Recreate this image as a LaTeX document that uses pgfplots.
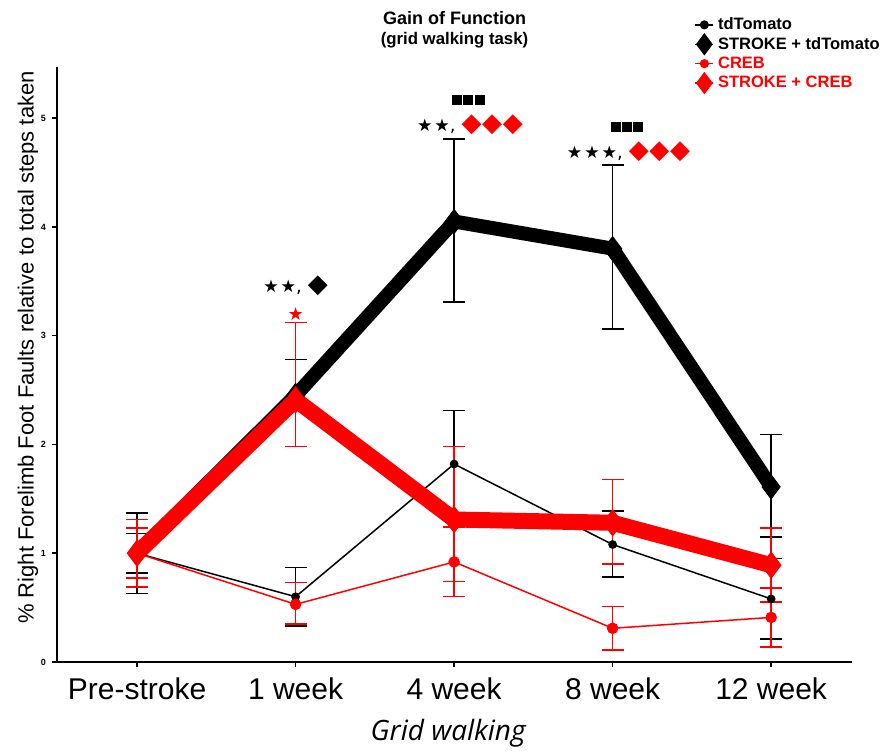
\documentclass[border=0pt]{standalone}
\usepackage{pgfplots}
\usepackage{pgfplotstable}
\pgfplotsset{compat=1.18}
\usepackage{fontspec}
\setmainfont{Liberation Sans}
\newfontfamily\osans{Open Sans}
\newfontfamily\symfont{DejaVu Sans}

% columns: time point, mean, error up, error down
\pgfplotstableread{
x y ep em
0 1.00 0.37 0.37
1 0.60 0.27 0.27
2 1.82 0.49 0.49
3 1.08 0.31 0.30
4 0.58 0.37 0.37
}\tdtomato

\pgfplotstableread{
x y ep em
0 1.00 0.18 0.18
1 2.45 0.33 0.47
2 4.05 0.76 0.74
3 3.80 0.77 0.74
4 1.61 0.48 0.46
}\stroketd

\pgfplotstableread{
x y ep em
0 1.00 0.23 0.23
1 0.53 0.20 0.18
2 0.92 0.32 0.32
3 0.31 0.20 0.20
4 0.41 0.27 0.27
}\creb

\pgfplotstableread{
x y ep em
0 1.00 0.31 0.31
1 2.41 0.71 0.43
2 1.31 0.67 0.57
3 1.28 0.40 0.38
4 0.89 0.34 0.34
}\strokecreb

\definecolor{cred}{RGB}{255,0,0}

\newcommand{\sq}{\rule{5pt}{5pt}}
\newcommand{\squares}{\sq\hspace{0.6pt}\sq\hspace{0.6pt}\sq}

\begin{document}
\begin{tikzpicture}[x=1pt,y=1pt]
\path[use as bounding box] (0,0) rectangle (442,375.5);
\begin{axis}[
  at={(28.5pt,44.5pt)}, anchor=south west,
  scale only axis, width=397.5pt, height=297.5pt,
  xmin=-0.505, xmax=4.51, ymin=0, ymax=5.47,
  clip=false,
  axis x line=bottom, axis y line=left,
  axis line style={-, line width=0.75pt},
  tick align=outside, major tick length=2.5pt,
  every tick/.style={black, line width=0.75pt},
  xtick={0,1,2,3,4},
  xticklabels={Pre-stroke, 1 week, 4 week, 8 week, 12 week},
  xticklabel style={font=\fontsize{15}{17}\selectfont, yshift=-2pt},
  ytick={0,1,2,3,4,5},
  yticklabel style={font=\bfseries\fontsize{4.5}{5}\selectfont, xshift=0.5pt},
  /pgf/number format/assume math mode=true,
  xlabel={Grid walking},
  xlabel style={font=\osans\itshape\fontsize{14}{16}\selectfont,
    at={(axis description cs:0.492,-0.119)}, anchor=center},
  ylabel={\% Right Forelimb Foot Faults relative to total steps taken},
  ylabel style={font=\fontsize{11}{13}\selectfont,
    at={(axis description cs:-0.0365,0.5286)}, anchor=center},
  legend style={at={(axis description cs:0.794,1.094)}, anchor=north west,
    draw=none, fill=none, font=\bfseries\fontsize{8.25}{9}\selectfont,
    nodes={text height=6.3pt, text depth=1.5pt, inner ysep=0.8pt, inner xsep=2pt}},
  legend cell align=left,
  legend image code/.code={%
    \draw[mark repeat=2, mark phase=2, #1]
      plot coordinates {(0pt,0pt) (4.5pt,0pt) (9pt,0pt)};},
  error bars/y dir=both, error bars/y explicit,
]

% thin series: sham animals
\addplot[forget plot, black, line width=0.75pt, mark=*, mark size=1.8pt,
  error bars/.cd, error bar style={black, line width=0.75pt},
  error mark options={rotate=90, mark size=5.5pt, line width=0.75pt, black}]
  table[x=x, y=y, y error plus=ep, y error minus=em]{\tdtomato};
\addplot[forget plot, cred, line width=0.75pt, mark=*, mark size=2.5pt,
  error bars/.cd, error bar style={cred, line width=0.75pt},
  error mark options={rotate=90, mark size=5.5pt, line width=0.75pt, cred}]
  table[x=x, y=y, y error plus=ep, y error minus=em]{\creb};

% thick series: stroke animals
\addplot[forget plot, black, line width=7pt, mark=diamond*, mark size=6pt,
  mark options={line width=0.5pt},
  error bars/.cd, error bar style={black, line width=0.75pt},
  error mark options={rotate=90, mark size=5.5pt, line width=0.75pt, black}]
  table[x=x, y=y, y error plus=ep, y error minus=em]{\stroketd};
\addplot[forget plot, cred, line width=8pt, mark=diamond*, mark size=6.5pt,
  mark options={line width=0.5pt},
  error bars/.cd, error bar style={cred, line width=0.75pt},
  error mark options={rotate=90, mark size=5.5pt, line width=0.75pt, cred}]
  table[x=x, y=y, y error plus=ep, y error minus=em]{\strokecreb};

\addlegendimage{black, line width=0.75pt, mark=*, mark size=1.9pt}
\addlegendentry{tdTomato}
\addlegendimage{black, line width=0.75pt, mark=diamond*, mark size=5pt}
\addlegendentry{STROKE + tdTomato}
\addlegendimage{cred, line width=0.75pt, mark=*, mark size=1.9pt}
\addlegendentry{\textcolor{cred}{CREB}}
\addlegendimage{cred, line width=0.75pt, mark=diamond*, mark size=5pt}
\addlegendentry{\textcolor{cred}{STROKE + CREB}}

% title
\node[font=\bfseries\fontsize{9}{10}\selectfont] at (axis description cs:0.5,1.082) {Gain of Function};
\node[font=\bfseries\fontsize{8.4}{9}\selectfont] at (axis description cs:0.5,1.045) {(grid walking task)};

% significance marks
\node[font=\symfont\fontsize{8.6}{9}\selectfont] at (axis cs:1.0,3.456)
  {★\kern1pt★{\fontsize{9}{9}\selectfont,}\kern3pt{\fontsize{13}{13}\selectfont◆}};
\node[font=\symfont\fontsize{9}{9}\selectfont, text=cred] at (axis cs:1.0,3.20) {★};
\node at (axis cs:2.09,5.165) {\squares};
\node[font=\symfont\fontsize{8.6}{9}\selectfont] at (axis cs:2.10,4.94)
  {★\kern1pt★{\fontsize{9}{9}\selectfont,}\kern3pt\textcolor{cred}{\fontsize{13}{13}\selectfont◆\kern0.3pt◆\kern0.3pt◆}};
\node at (axis cs:3.09,4.92) {\squares};
\node[font=\symfont\fontsize{8.6}{9}\selectfont] at (axis cs:3.10,4.69)
  {★\kern1pt★\kern1pt★{\fontsize{9}{9}\selectfont,}\kern3pt\textcolor{cred}{\fontsize{13}{13}\selectfont◆\kern0.3pt◆\kern0.3pt◆}};
\end{axis}
\end{tikzpicture}
\end{document}
